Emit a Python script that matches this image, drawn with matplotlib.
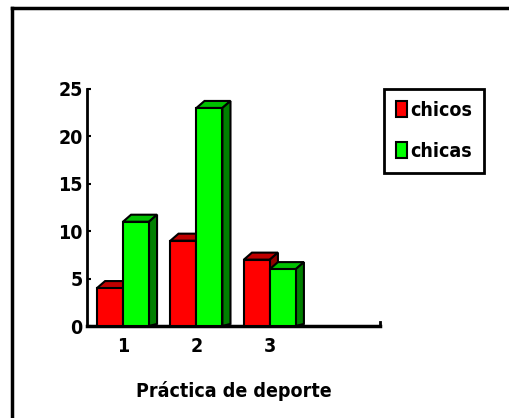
import matplotlib
matplotlib.use("Agg")
import matplotlib.pyplot as plt
from matplotlib.patches import Polygon, Patch
from matplotlib.lines import Line2D

categorias = [1, 2, 3]
chicos = [4, 9, 7]
chicas = [11, 23, 6]
yticks = [0, 5, 10, 15, 20, 25]

rojo, rojo_top, rojo_lado = "#ff0000", "#c00000", "#900000"
verde, verde_top, verde_lado = "#00ff00", "#00c000", "#008000"

plt.rcParams['font.family'] = ['DejaVu Sans']
plt.rcParams['font.stretch'] = 'condensed'

W, H = 509, 418
fig = plt.figure(figsize=(W / 100, H / 100), dpi=100)
ax = fig.add_axes([87 / W, (H - 326) / H, (380 - 87) / W, (326 - 89) / H])

ancho = 0.354
dx, dy = 0.11, 0.74

def barra3d(x0, h, cara, top, lado):
    ax.bar(x0, h, width=ancho, align='edge', color=cara, edgecolor='black',
           linewidth=1.5, zorder=3)
    x1 = x0 + ancho
    ax.add_patch(Polygon([(x0, h), (x0 + dx, h + dy), (x1 + dx, h + dy), (x1, h)],
                         closed=True, facecolor=top, edgecolor='black',
                         linewidth=1.5, zorder=2))
    ax.add_patch(Polygon([(x1, 0), (x1, h), (x1 + dx, h + dy), (x1 + dx, dy * 0.3)],
                         closed=True, facecolor=lado, edgecolor='black',
                         linewidth=1.5, zorder=2))

for c, a, b in zip(categorias, chicos, chicas):
    barra3d(c - ancho, a, rojo, rojo_top, rojo_lado)
    barra3d(c, b, verde, verde_top, verde_lado)

ax.set_xlim(0.51, 4.5)
ax.set_ylim(0, 25)
ax.set_xticks(categorias)
ax.set_yticks(yticks)
ax.tick_params(axis='y', direction='in', length=3, width=1.5, labelsize=14, pad=3)
ax.tick_params(axis='x', length=0, labelsize=14, pad=8)
for lab in ax.get_xticklabels() + ax.get_yticklabels():
    lab.set_fontweight('bold')
ax.spines['top'].set_visible(False)
ax.spines['right'].set_visible(False)
ax.spines['left'].set_linewidth(2)
ax.spines['bottom'].set_linewidth(2.5)
ax.plot([4.5, 4.5], [0, 0.4], color='black', lw=2, clip_on=False)
ax.set_xlabel("Práctica de deporte", fontsize=14, fontweight='bold', labelpad=18)

handles = [Patch(facecolor=rojo, edgecolor='black', linewidth=1.5, label='chicos'),
           Patch(facecolor=verde, edgecolor='black', linewidth=1.5, label='chicas')]
leg = fig.legend(handles=handles, loc='upper left',
                 bbox_to_anchor=(384 / W, 1 - 89 / H), borderaxespad=0, fancybox=False,
                 framealpha=1, edgecolor='black', handlelength=0.6, handleheight=0.9,
                 handletextpad=0.15, borderpad=0.6, labelspacing=1.15,
                 prop={'size': 14, 'weight': 'bold', 'stretch': 'condensed'})
leg.get_frame().set_linewidth(2)

fig.add_artist(Line2D([11.5 / W, 11.5 / W], [0, 1 - 7.5 / H], color='black', lw=2.5,
                      transform=fig.transFigure))
fig.add_artist(Line2D([11.5 / W, 1], [1 - 7.5 / H, 1 - 7.5 / H], color='black', lw=2.5,
                      transform=fig.transFigure))

fig.savefig("out.png", dpi=100)
